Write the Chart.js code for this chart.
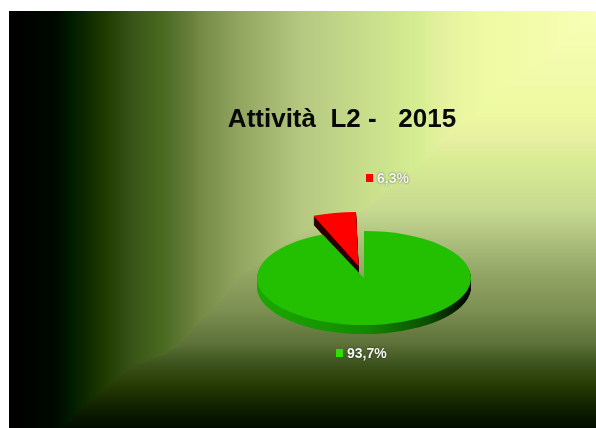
<!DOCTYPE html>
<html>
<head>
<meta charset="utf-8">
<script src="https://cdn.jsdelivr.net/npm/chart.js@4.4.1/dist/chart.umd.min.js"></script>
<style>
  html, body { margin: 0; padding: 0; background: #fff; }
  #wrap { width: 596px; height: 428px; }
</style>
</head>
<body>
<div id="wrap"><canvas id="myChart"></canvas></div>
<script>
// Data
const chartTitle = 'Attività  L2 -   2015';
const categories = ['Attività L2', 'Altro'];
const values = [93.7, 6.3];
const valueLabels = ['93,7%', '6,3%'];

// Styles
const sliceColors = ['#22c000', '#ff0000'];
const markerColors = ['#2ee000', '#ff0000'];
const sliceOffsets = [0, 108];
const TILT = 0.44;      // vertical squash of the pie
const DEPTH = 9;        // thickness in px
const labelPos = [[-28, 75], [2, -100]]; // marker left / centre y, relative to pie centre

// background: gradient from the top right corner (Excel style)
const stopsX = [[9,'#000000'],[55,'#000800'],[70,'#001a00'],[106,'#203c00'],[133,'#3a5518'],
  [163,'#4a6a20'],[185,'#627a38'],[200,'#748a45'],[240,'#92a660'],[300,'#b4c880'],[360,'#c6dc8a'],
  [420,'#d6ee92'],[440,'#e4f09e'],[480,'#eefaa2'],[540,'#f3fcaa'],[596,'#f8ffb8']];
const stopsY = [[11,'#f8ffb8'],[80,'#f0faa8'],[111,'#eefaa0'],[141,'#e6eea0'],[161,'#d8ec94'],
  [211,'#c5d890'],[244,'#aabc7a'],[278,'#90a262'],[311,'#7a8f50'],[344,'#5c7038'],[361,'#405620'],
  [378,'#2c4208'],[394,'#1c3000'],[411,'#0c1c00'],[428,'#000c00']];

function hex(c) {
    return [parseInt(c.substr(1,2),16), parseInt(c.substr(3,2),16), parseInt(c.substr(5,2),16)];
}

function ramp(stops, n) {
    const out = [];
    for (let p = 0; p < n; p++) {
        let i = 0;
        while (i < stops.length - 2 && p > stops[i + 1][0]) i++;
        const a = stops[i], b = stops[i + 1];
        let t = (p - a[0]) / (b[0] - a[0]);
        t = Math.max(0, Math.min(1, t));
        const ca = hex(a[1]), cb = hex(b[1]);
        out.push(ca.map((v, k) => Math.round(v + (cb[k] - v) * t)));
    }
    return out;
}

const bgPlugin = {
    id: 'bg',
    beforeDraw(chart) {
        const ctx = chart.ctx;
        const w = chart.canvas.width, h = chart.canvas.height;
        const colX = ramp(stopsX, w), colY = ramp(stopsY, h);
        const img = ctx.createImageData(w, h);
        for (let y = 0; y < h; y++) {
            for (let x = 0; x < w; x++) {
                const i = (y * w + x) * 4;
                let c;
                if (x < 9 || y < 11) {
                    c = [255, 255, 255];
                } else {
                    const a = colX[x], b = colY[y];
                    c = (a[0] + a[1] + a[2] <= b[0] + b[1] + b[2]) ? a : b;
                }
                img.data[i] = c[0]; img.data[i + 1] = c[1]; img.data[i + 2] = c[2]; img.data[i + 3] = 255;
            }
        }
        ctx.putImageData(img, 0, 0);

        ctx.save();
        ctx.font = 'bold 26px "Liberation Sans", Arial, sans-serif';
        ctx.fillStyle = '#080808';
        ctx.textAlign = 'center';
        ctx.textBaseline = 'alphabetic';
        ctx.fillText(chartTitle, 342, 127);
        ctx.restore();
    }
};

// fake 3D: squash the pie and stack copies underneath
const pie3dPlugin = {
    id: 'pie3d',
    beforeDatasetsDraw(chart) {
        const ctx = chart.ctx;
        const arcs = chart.getDatasetMeta(0).data;
        const cx = arcs[0].x, cy = arcs[0].y;
        const R = arcs[0].outerRadius;

        const tilt = (d) => {
            ctx.translate(0, d);
            ctx.translate(cx, cy);
            ctx.scale(1, TILT);
            ctx.translate(-cx, -cy);
        };
        const drawWith = (arc, color) => {
            const copy = Object.create(arc);
            copy.options = Object.assign({}, arc.options, {backgroundColor: color});
            arc.draw.call(copy, ctx);
        };

        const greenSide = ctx.createLinearGradient(cx - R, 0, cx + R, 0);
        greenSide.addColorStop(0, '#1ba800');
        greenSide.addColorStop(0.5, '#128a00');
        greenSide.addColorStop(0.8, '#0a5000');
        greenSide.addColorStop(1, '#000000');
        const sides = [greenSide, '#2a0000'];

        for (let d = DEPTH; d >= 1; d--) {
            arcs.forEach((arc, i) => {
                ctx.save();
                tilt(d);
                drawWith(arc, sides[i]);
                ctx.restore();
            });
        }
        arcs.forEach((arc) => {
            ctx.save();
            tilt(0);
            arc.draw(ctx);
            ctx.restore();
        });
        return false;
    },
    afterDraw(chart) {
        const ctx = chart.ctx;
        const arcs = chart.getDatasetMeta(0).data;
        const cx = arcs[0].x, cy = arcs[0].y;
        ctx.save();
        ctx.font = 'bold 14px "Liberation Sans", Arial, sans-serif';
        ctx.textBaseline = 'middle';
        valueLabels.forEach((txt, i) => {
            const mx = cx + labelPos[i][0], my = cy + labelPos[i][1];
            ctx.fillStyle = markerColors[i];
            ctx.fillRect(mx, my - 4, 7, 8);
            ctx.shadowColor = 'rgba(0,0,0,0.6)';
            ctx.shadowBlur = 2;
            ctx.fillStyle = '#f4f4f4';
            ctx.fillText(txt, mx + 11, my + 1);
            ctx.shadowBlur = 0;
            ctx.shadowColor = 'transparent';
        });
        ctx.restore();
    }
};

const ctx = document.getElementById('myChart').getContext('2d');
const myChart = new Chart(ctx, {
    type: 'pie',
    data: {
        labels: categories,
        datasets: [{
            data: values,
            backgroundColor: sliceColors,
            borderWidth: 0,
            offset: sliceOffsets
        }]
    },
    options: {
        responsive: true,
        maintainAspectRatio: false,
        animation: false,
        events: [],
        radius: 107,
        layout: { padding: { left: 200, right: 68, top: 200, bottom: 72 } },
        plugins: {
            legend: { display: false },
            tooltip: { enabled: false },
            title: { display: false }
        }
    },
    plugins: [bgPlugin, pie3dPlugin]
});
</script>
</body>
</html>
